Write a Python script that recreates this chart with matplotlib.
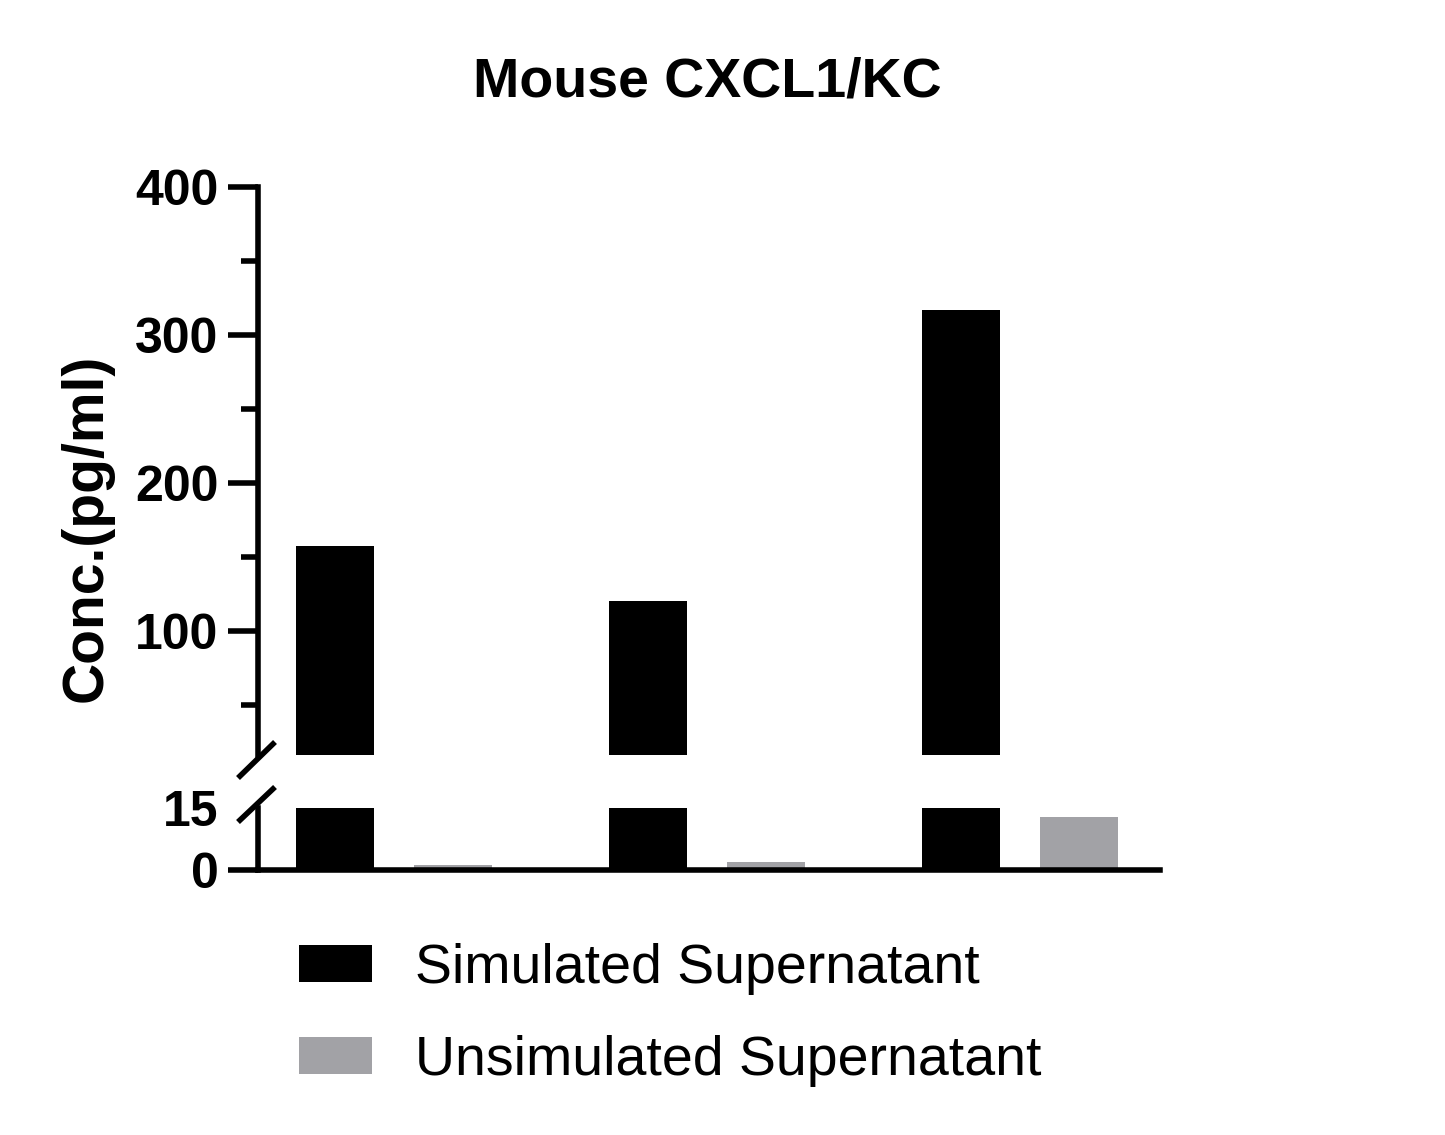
import numpy as np
import matplotlib
matplotlib.use("Agg")
import matplotlib.pyplot as plt
from matplotlib.patches import Patch
from matplotlib.lines import Line2D

plt.rcParams['font.family'] = ['Liberation Sans', 'DejaVu Sans']

# data
groups = ["A", "B", "C"]
simulated = [157, 120, 317]          # pg/ml
unsimulated = [1.1, 2.0, 12.8]       # pg/ml
series_names = ["Simulated Supernatant", "Unsimulated Supernatant"]
series_colors = ["#000000", "#a2a2a6"]

top_ticks = [100, 200, 300, 400]
top_minor = [50, 150, 250, 350]
bottom_ticks = [0, 15]

W, H = 1445, 1135
fig = plt.figure(figsize=(W / 100, H / 100), dpi=100)

left, right = 258, 1160
ax_top = fig.add_axes([left / W, (H - 755) / H, (right - left) / W, (755 - 187) / H])
ax_bot = fig.add_axes([left / W, (H - 870) / H, (right - left) / W, (870 - 808) / H])

x = np.arange(len(groups))
width = 0.25
off = 0.1885
lw = 4

for ax in (ax_top, ax_bot):
    ax.bar(x - off, simulated, width, color=series_colors[0], linewidth=0)
    ax.bar(x + off, unsimulated, width, color=series_colors[1], linewidth=0)
    ax.set_xlim(-0.4345, 2.447)
    ax.spines['top'].set_visible(False)
    ax.spines['right'].set_visible(False)
    ax.spines['left'].set_linewidth(lw)
    ax.spines['bottom'].set_linewidth(lw)
    ax.set_xticks([])
    ax.tick_params(axis='y', which='major', length=21.6, width=lw, pad=7,
                   labelsize=36)
    ax.tick_params(axis='y', which='minor', length=12, width=lw)

ax_top.set_ylim(16, 400)
ax_top.spines['bottom'].set_visible(False)
ax_top.set_yticks(top_ticks)
ax_top.set_yticks(top_minor, minor=True)
ax_top.set_yticklabels([str(t) for t in top_ticks], fontweight='bold')

ax_bot.set_ylim(0, 15)
ax_bot.set_yticks(bottom_ticks)
ax_bot.set_yticklabels([str(t) for t in bottom_ticks], fontweight='bold')
ax_bot.yaxis.get_major_ticks()[1].tick1line.set_visible(False)

# break marks on the y axis
for (x0, y0, x1, y1) in [(238, 778, 275, 742), (238, 822, 275, 787)]:
    fig.add_artist(Line2D([x0 / W, x1 / W], [1 - y0 / H, 1 - y1 / H],
                          color='black', linewidth=4, solid_capstyle='butt'))

fig.text(707 / W, 1 - 82 / H, "Mouse CXCL1/KC", ha='center', va='center',
         fontsize=40, fontweight='bold')
fig.text(87 / W, 1 - 528 / H, "Conc.(pg/ml)", ha='center', va='center',
         rotation=90, fontsize=41, fontweight='bold')

handles = [Patch(facecolor=c, edgecolor='none') for c in series_colors]
fig.legend(handles, series_names, loc='upper left',
           bbox_to_anchor=(299 / W, 1 - 943 / H), frameon=False,
           fontsize=40, borderpad=0, borderaxespad=0,
           handlelength=1.31, handleheight=0.67, handletextpad=0.77,
           labelspacing=0.72)

fig.savefig("out.png", dpi=100)
